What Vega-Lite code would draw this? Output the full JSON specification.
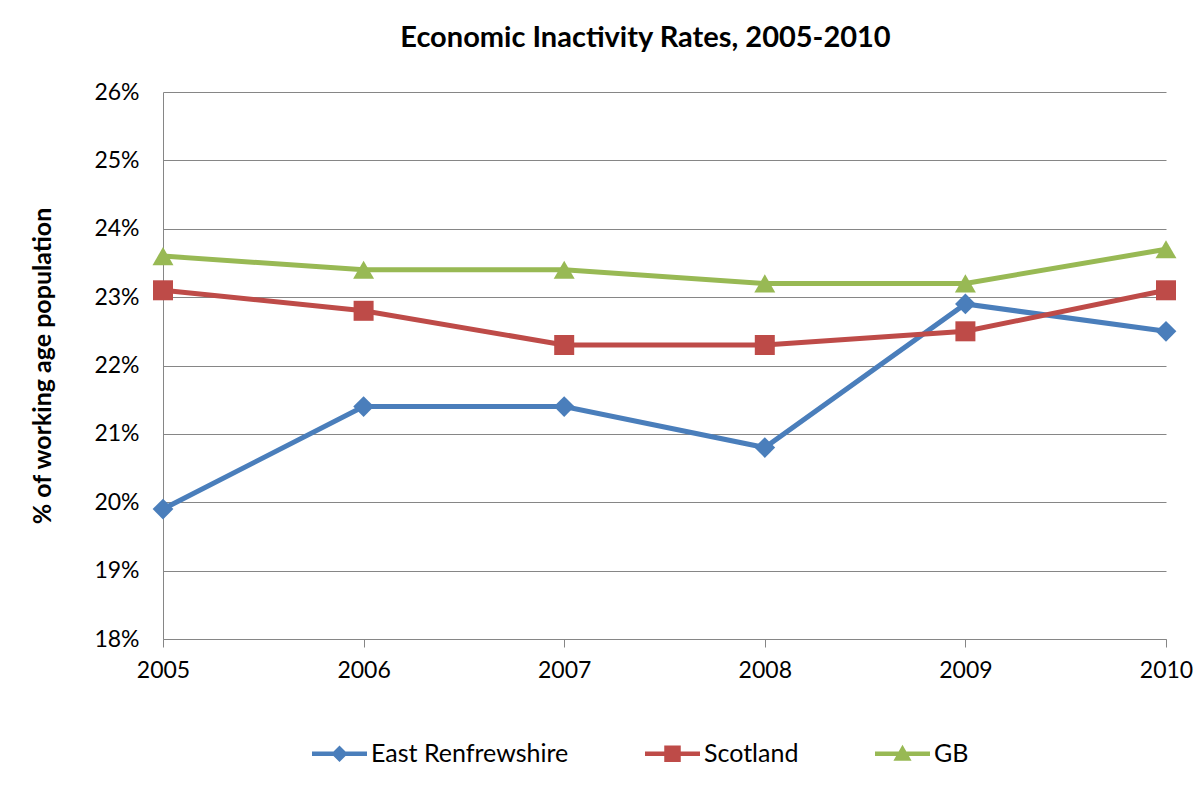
{
  "$schema": "https://vega.github.io/schema/vega-lite/v6.json",
  "width": 1003,
  "height": 547,
  "autosize": {"type": "none"},
  "padding": {"left": 163, "top": 92, "right": 35, "bottom": 153},
  "background": "white",
  "title": {
    "text": "Economic Inactivity Rates, 2005-2010",
    "font": "Lato",
    "fontSize": 29,
    "fontWeight": "bold",
    "color": "black",
    "anchor": "middle",
    "dx": -19,
    "offset": 28
  },
  "config": {
    "font": "Lato",
    "view": {"stroke": null},
    "axis": {
      "labelFont": "Lato",
      "labelFontSize": 23,
      "labelColor": "black",
      "titleFont": "Lato",
      "titleColor": "black",
      "gridColor": "#868686",
      "domainColor": "#868686",
      "tickColor": "#868686"
    }
  },
  "data": {
    "values": [
      {"year": 2005, "series": "East Renfrewshire", "rate": 19.9},
      {"year": 2006, "series": "East Renfrewshire", "rate": 21.4},
      {"year": 2007, "series": "East Renfrewshire", "rate": 21.4},
      {"year": 2008, "series": "East Renfrewshire", "rate": 20.8},
      {"year": 2009, "series": "East Renfrewshire", "rate": 22.9},
      {"year": 2010, "series": "East Renfrewshire", "rate": 22.5},
      {"year": 2005, "series": "Scotland", "rate": 23.1},
      {"year": 2006, "series": "Scotland", "rate": 22.8},
      {"year": 2007, "series": "Scotland", "rate": 22.3},
      {"year": 2008, "series": "Scotland", "rate": 22.3},
      {"year": 2009, "series": "Scotland", "rate": 22.5},
      {"year": 2010, "series": "Scotland", "rate": 23.1},
      {"year": 2005, "series": "GB", "rate": 23.6},
      {"year": 2006, "series": "GB", "rate": 23.4},
      {"year": 2007, "series": "GB", "rate": 23.4},
      {"year": 2008, "series": "GB", "rate": 23.2},
      {"year": 2009, "series": "GB", "rate": 23.2},
      {"year": 2010, "series": "GB", "rate": 23.7}
    ]
  },
  "encoding": {
    "x": {
      "field": "year",
      "type": "quantitative",
      "scale": {"domain": [2005, 2010], "nice": false, "zero": false},
      "axis": {
        "title": null,
        "values": [2005, 2006, 2007, 2008, 2009, 2010],
        "format": "d",
        "grid": false,
        "tickSize": 8,
        "labelPadding": 12,
        "labelFlush": false
      }
    },
    "y": {
      "field": "rate",
      "type": "quantitative",
      "scale": {"domain": [18, 26], "nice": false, "zero": false},
      "axis": {
        "title": "% of working age population",
        "titleFontSize": 25,
        "titleFontWeight": "bold",
        "titlePadding": 38,
        "values": [18, 19, 20, 21, 22, 23, 24, 25, 26],
        "labelExpr": "datum.value + '%'",
        "ticks": false,
        "labelPadding": 24,
        "grid": true
      }
    },
    "color": {
      "field": "series",
      "type": "nominal",
      "scale": {
        "domain": ["East Renfrewshire", "Scotland", "GB"],
        "range": ["#4A7EBB", "#BE4B48", "#98B954"]
      },
      "legend": {
        "title": null,
        "orient": "none",
        "direction": "horizontal",
        "legendX": 149,
        "legendY": 634,
        "symbolSize": 3025,
        "labelFont": "Lato",
        "labelFontSize": 25,
        "labelColor": "black",
        "labelOffset": 4,
        "columnPadding": 76,
        "labelLimit": 400,
        "encode": {
          "symbols": {
            "update": {
              "shape": {"signal": "datum.value === 'East Renfrewshire' ? 'M-1,-0.08L1,-0.08L1,0.08L-1,0.08Z M-0.3,0L0,-0.3L0.3,0L0,0.3Z' : datum.value === 'Scotland' ? 'M-1,-0.08L1,-0.08L1,0.08L-1,0.08Z M-0.3,-0.3L0.3,-0.3L0.3,0.3L-0.3,0.3Z' : 'M-1,-0.08L1,-0.08L1,0.08L-1,0.08Z M0,-0.33L0.33,0.25L-0.33,0.25Z'"},
              "fill": {"signal": "scale('color', datum.value)"},
              "fillOpacity": {"value": 1},
              "strokeWidth": {"value": 0},
              "size": {"value": 3025}
            }
          }
        }
      }
    }
  },
  "layer": [
    {
      "mark": {"type": "line", "strokeWidth": 5}
    },
    {
      "transform": [{"filter": "datum.series === 'East Renfrewshire'"}],
      "mark": {"type": "point", "shape": "diamond", "filled": true, "opacity": 1, "size": 430}
    },
    {
      "transform": [{"filter": "datum.series === 'Scotland'"}],
      "mark": {"type": "point", "shape": "square", "filled": true, "opacity": 1, "size": 400}
    },
    {
      "transform": [{"filter": "datum.series === 'GB'"}],
      "mark": {"type": "point", "shape": "triangle-up", "filled": true, "opacity": 1, "size": 440}
    }
  ]
}
